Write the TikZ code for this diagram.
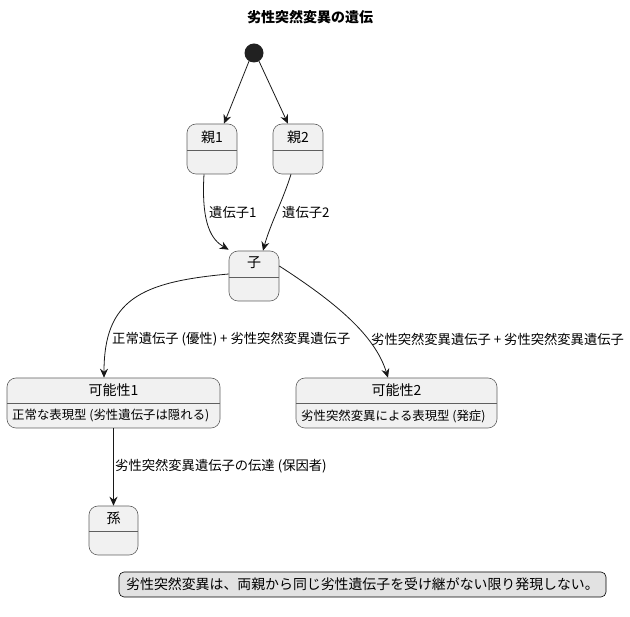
\documentclass[tikz,border=0pt]{standalone}
\usepackage{fontspec}
\setmainfont{Noto Sans CJK JP}
\usetikzlibrary{arrows.meta}
\definecolor{boxfill}{HTML}{F1F1F1}
\definecolor{boxline}{HTML}{5F5F5F}
\definecolor{lineclr}{HTML}{181818}
\definecolor{notefill}{HTML}{E2E2E2}
\begin{document}
\begin{tikzpicture}[x=1pt,y=-1pt,
  statebox/.style={draw=boxline,fill=boxfill,rounded corners=9pt,line width=0.6pt,inner sep=0pt},
  title/.style={font=\fontsize{14}{16}\selectfont,inner sep=0pt},
  desc/.style={font=\fontsize{12.4}{14}\selectfont,inner sep=0pt,anchor=west},
  elabel/.style={font=\fontsize{13.3}{15}\selectfont,inner sep=0pt,anchor=west},
  arr/.style={draw=lineclr,line width=0.8pt,-{Stealth[length=9pt,width=8pt,inset=3pt]}},
  notebox/.style={draw=black,fill=notefill,rounded corners=5pt,line width=0.6pt,inner sep=0pt}]
\useasboundingbox (0,0) rectangle (630,617);
% title
\node[font=\bfseries\fontsize{14}{16}\selectfont,inner sep=0pt] (ttl) at (310,17) {劣性突然変異の遺伝};
% start
\node[circle,fill=black!87,inner sep=0pt,minimum size=19pt] (start) at (254,53) {};
% 親1
\node[statebox,minimum width=50pt,minimum height=50pt] (p1) at (212,149) {};
\draw[boxline,line width=0.6pt] (187,150) -- (237,150);
\node[title] (p1t) at (212,137) {親1};
% 親2
\node[statebox,minimum width=50pt,minimum height=50pt] (p2) at (298,149) {};
\draw[boxline,line width=0.6pt] (273,150) -- (323,150);
\node[title] (p2t) at (298,137) {親2};
% 子
\node[statebox,minimum width=50pt,minimum height=50pt] (c) at (254,276) {};
\draw[boxline,line width=0.6pt] (229,277) -- (279,277);
\node[title] (ct) at (254,263) {子};
% 可能性1
\node[statebox,minimum width=213pt,minimum height=50pt] (k1) at (113.5,403) {};
\draw[boxline,line width=0.6pt] (7,403) -- (220,403);
\node[title] (k1t) at (113.5,390) {可能性1};
\node[desc] (k1d) at (12,416) {正常な表現型 (劣性遺伝子は隠れる)};
% 可能性2
\node[statebox,minimum width=201pt,minimum height=50pt] (k2) at (396.5,403) {};
\draw[boxline,line width=0.6pt] (296,403) -- (497,403);
\node[title] (k2t) at (396.5,390) {可能性2};
\node[desc] (k2d) at (301,416) {劣性突然変異による表現型 (発症)};
% 孫
\node[statebox,minimum width=49pt,minimum height=49pt] (g) at (113.5,530.5) {};
\draw[boxline,line width=0.6pt] (89,531) -- (138,531);
\node[title] (gt) at (113.5,518) {孫};
% note
\node[notebox,minimum width=487pt,minimum height=25pt] (note) at (362.5,584.5) {};
\node[font=\fontsize{13.9}{16}\selectfont,inner sep=0pt] (notet) at (362.5,584.5) {劣性突然変異は、両親から同じ劣性遺伝子を受け継がない限り発現しない。};
% edges
\draw[arr] (start.south west) ++(2,1) -- ([xshift=12pt]p1.north);
\draw[arr] (start.south east) ++(-2,1) -- ([xshift=-10pt]p2.north);
\draw[arr] ([xshift=-8pt]p1.south) .. controls (201,225) and (212,240) .. ([yshift=1pt]c.north west);
\node[elabel] (l1) at (209,212) {遺伝子1};
\draw[arr] ([xshift=-7pt]p2.south) .. controls (283,200) and (270,225) .. ([xshift=9pt]c.north);
\node[elabel] (l2) at (282,212) {遺伝子2};
\draw[arr] ([yshift=2pt]c.west) .. controls (140,282) and (104,300) .. ([xshift=-9.5pt]k1.north);
\node[elabel] (l3) at (112,339) {正常遺伝子 (優性) + 劣性突然変異遺伝子};
\draw[arr] ([yshift=10pt]c.east) .. controls (335,302) and (375,335) .. ([xshift=-8.5pt]k2.north);
\node[elabel] (l4) at (371,339) {劣性突然変異遺伝子 + 劣性突然変異遺伝子};
\draw[arr] (k1.south) -- (g.north);
\node[elabel] (l5) at (115,466) {劣性突然変異遺伝子の伝達 (保因者)};
\end{tikzpicture}
\end{document}
